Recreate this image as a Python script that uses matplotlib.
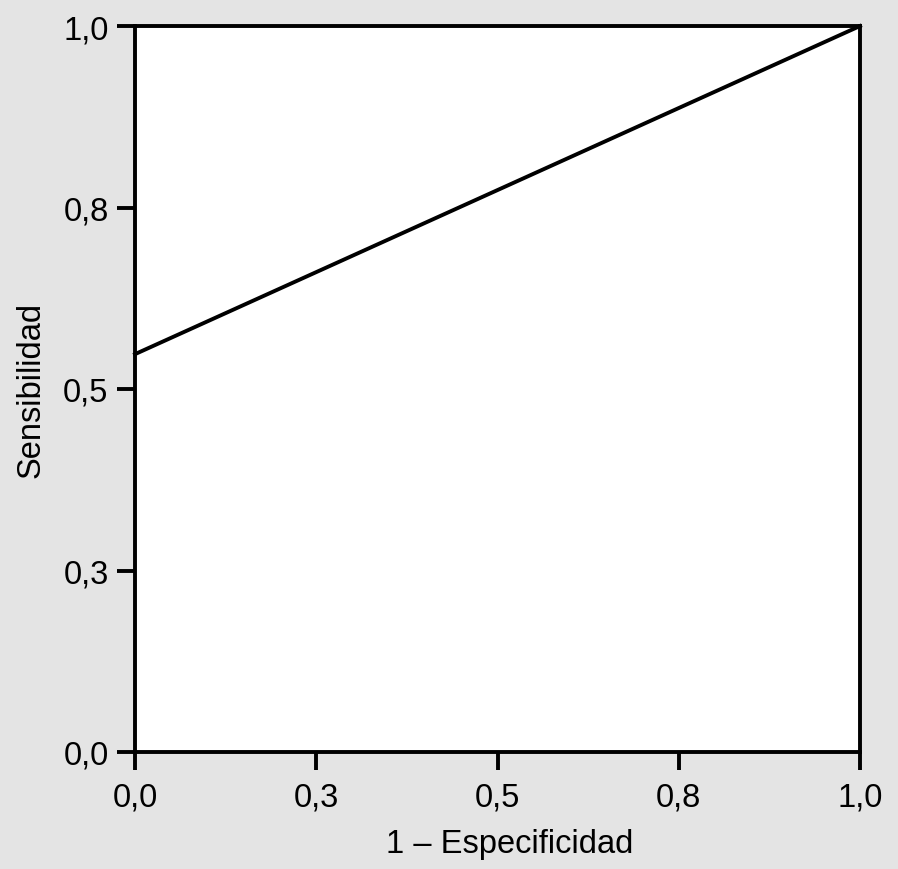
import matplotlib
matplotlib.use('Agg')
from matplotlib import pyplot as plt

# ROC curve points
fpr = [0.0, 1.0]
tpr = [0.548, 1.0]

ticks = [0.0, 0.25, 0.5, 0.75, 1.0]
tick_labels = ['0,0', '0,3', '0,5', '0,8', '1,0']

plt.rcParams['font.family'] = ['Liberation Sans', 'DejaVu Sans']

fig = plt.figure(figsize=(8.98, 8.70), dpi=100, facecolor='#e4e4e4')
ax = fig.add_axes([135 / 898, 1 - 753 / 870, 725 / 898, 726 / 870])
ax.set_facecolor('white')

ax.plot(fpr, tpr, color='black', linewidth=2.8, clip_on=False)

ax.set_xlim(0, 1)
ax.set_ylim(0, 1)
ax.set_xticks(ticks)
ax.set_xticklabels(tick_labels)
ax.set_yticks(ticks)
ax.set_yticklabels(tick_labels)

for sp in ax.spines.values():
    sp.set_linewidth(2.8)
ax.tick_params(axis='x', direction='out', length=13, width=2.8, labelsize=23.5, pad=8)
ax.tick_params(axis='y', direction='out', length=13, width=2.8, labelsize=23.5, pad=6)

ax.set_xlabel('1 – Especificidad', fontsize=23.5)
ax.xaxis.set_label_coords(0.517, -0.104)
ax.set_ylabel('Sensibilidad', fontsize=23.5, labelpad=12)

fig.savefig('out.png', dpi=100, facecolor=fig.get_facecolor())
